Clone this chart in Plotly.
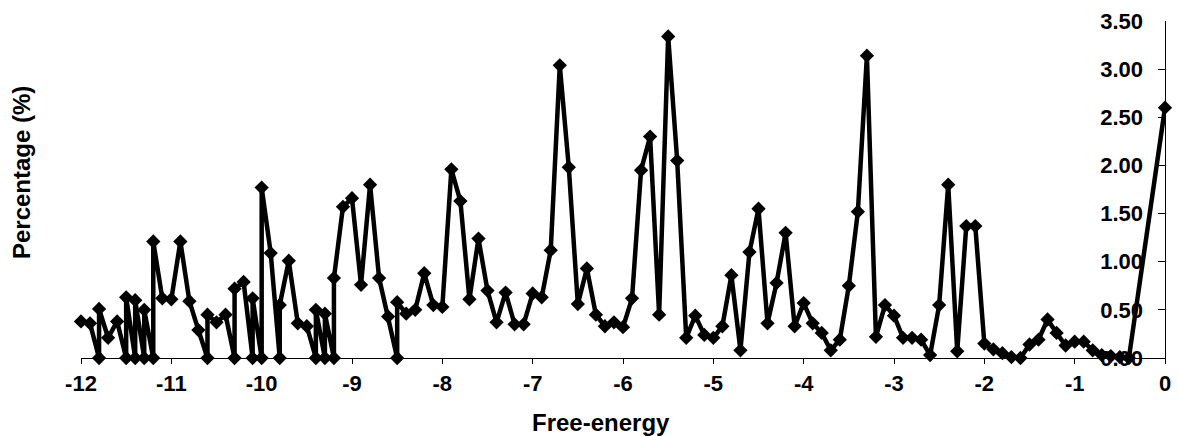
import plotly.graph_objects as go

# Free-energy bins (x) and percentage (y), in drawing order
free_energy = [
    -12.0, -11.9, -11.8, -11.8, -11.7, -11.6, -11.5, -11.5, -11.4, -11.4,
    -11.3, -11.3, -11.2, -11.2, -11.1, -11.0, -10.9, -10.8, -10.7, -10.6,
    -10.6, -10.5, -10.4, -10.3, -10.3, -10.2, -10.1, -10.1, -10.0, -10.0,
    -9.9, -9.8, -9.8, -9.7, -9.6, -9.5, -9.4, -9.4, -9.3, -9.3,
    -9.2, -9.2, -9.1, -9.0, -8.9, -8.8, -8.7, -8.6, -8.5, -8.5,
    -8.4, -8.3, -8.2, -8.1, -8.0, -7.9, -7.8, -7.7, -7.6, -7.5,
    -7.4, -7.3, -7.2, -7.1, -7.0, -6.9, -6.8, -6.7, -6.6, -6.5,
    -6.4, -6.3, -6.2, -6.1, -6.0, -5.9, -5.8, -5.7, -5.6, -5.5,
    -5.4, -5.3, -5.2, -5.1, -5.0, -4.9, -4.8, -4.7, -4.6, -4.5,
    -4.4, -4.3, -4.2, -4.1, -4.0, -3.9, -3.8, -3.7, -3.6, -3.5,
    -3.4, -3.3, -3.2, -3.1, -3.0, -2.9, -2.8, -2.7, -2.6, -2.5,
    -2.4, -2.3, -2.2, -2.1, -2.0, -1.9, -1.8, -1.7, -1.6, -1.5,
    -1.4, -1.3, -1.2, -1.1, -1.0, -0.9, -0.8, -0.7, -0.6, -0.5,
    -0.4, 0.0,
]
percentage = [
    0.38, 0.36, 0.00, 0.51, 0.21, 0.38, 0.00, 0.63, 0.00, 0.60,
    0.00, 0.50, 0.00, 1.21, 0.62, 0.61, 1.21, 0.59, 0.29, 0.00,
    0.45, 0.37, 0.45, 0.00, 0.72, 0.79, 0.00, 0.62, 0.00, 1.77,
    1.09, 0.00, 0.55, 1.01, 0.36, 0.33, 0.00, 0.50, 0.00, 0.46,
    0.00, 0.83, 1.57, 1.66, 0.76, 1.80, 0.83, 0.43, 0.00, 0.58,
    0.46, 0.50, 0.88, 0.55, 0.53, 1.96, 1.63, 0.61, 1.24, 0.70,
    0.37, 0.68, 0.35, 0.35, 0.67, 0.63, 1.12, 3.04, 1.98, 0.56,
    0.93, 0.45, 0.33, 0.37, 0.32, 0.62, 1.95, 2.30, 0.45, 3.34,
    2.05, 0.21, 0.44, 0.24, 0.21, 0.33, 0.86, 0.08, 1.10, 1.55,
    0.36, 0.78, 1.30, 0.33, 0.57, 0.36, 0.26, 0.08, 0.19, 0.75,
    1.52, 3.14, 0.22, 0.55, 0.44, 0.21, 0.21, 0.19, 0.03, 0.55,
    1.80, 0.07, 1.37, 1.37, 0.15, 0.09, 0.05, 0.01, 0.00, 0.14,
    0.19, 0.40, 0.26, 0.13, 0.17, 0.17, 0.08, 0.03, 0.02, 0.01,
    0.00, 2.60,
]

x_tickvals = [-12, -11, -10, -9, -8, -7, -6, -5, -4, -3, -2, -1, 0]
x_ticktext = ["-12", "-11", "-10", "-9", "-8", "-7", "-6", "-5", "-4", "-3", "-2", "-1", "0"]
y_tickvals = [0, 0.5, 1.0, 1.5, 2.0, 2.5, 3.0, 3.5]
y_ticktext = ["0.00", "0.50", "1.00", "1.50", "2.00", "2.50", "3.00", "3.50"]

FONT = "Arial, 'Liberation Sans', sans-serif"
TICKFONT = dict(family=FONT, size=22, color="black", weight="bold")

fig = go.Figure()
fig.add_trace(go.Scatter(
    x=free_energy, y=percentage, mode="lines+markers",
    line=dict(color="black", width=4.5),
    marker=dict(symbol="diamond", size=11, color="black"),
    showlegend=False, cliponaxis=False,
))
# empty helper trace so the label-only right axis is created
fig.add_trace(go.Scatter(x=[], y=[], yaxis="y2", showlegend=False, hoverinfo="skip"))

fig.update_layout(
    width=1178, height=436, autosize=False,
    margin=dict(l=81, r=7, t=21, b=78),
    paper_bgcolor="white", plot_bgcolor="white",
    font=dict(family=FONT, color="black"),
    xaxis=dict(
        range=[-12, 0], tickvals=x_tickvals, ticktext=x_ticktext,
        showline=True, linecolor="black", linewidth=1.2,
        ticks="outside", ticklen=5, tickcolor="black", tickwidth=1,
        showgrid=False, zeroline=False, ticklabeloverflow="allow",
        tickfont=TICKFONT,
    ),
    xaxis2=dict(
        range=[-12, 0], tickvals=x_tickvals, overlaying="x", anchor="y",
        side="bottom", showticklabels=False, showline=False,
        ticks="inside", ticklen=6, tickcolor="black", tickwidth=1,
        showgrid=False, zeroline=False,
    ),
    yaxis=dict(
        range=[0, 3.5], side="right", tickvals=y_tickvals,
        showticklabels=False, ticks="inside", ticklen=7,
        tickcolor="black", tickwidth=1,
        showline=True, linecolor="black", linewidth=1.2,
        showgrid=False, zeroline=False,
    ),
    yaxis2=dict(
        range=[0, 3.5], side="right", overlaying="y", anchor="x",
        tickvals=y_tickvals, ticktext=y_ticktext,
        ticklabelposition="inside", ticks="", ticklabelstandoff=19,
        ticklabeloverflow="allow",
        showline=False, showgrid=False, zeroline=False,
        tickfont=TICKFONT,
    ),
    annotations=[
        dict(text="Free-energy", xref="paper", yref="paper", x=0.48, y=-0.19,
             xanchor="center", yanchor="middle", showarrow=False,
             font=dict(family=FONT, size=24, color="black", weight="bold")),
        dict(text="Percentage (%)", xref="paper", yref="paper", x=-0.055, y=0.55,
             xanchor="center", yanchor="middle", textangle=-90, showarrow=False,
             font=dict(family=FONT, size=24, color="black", weight="bold")),
    ],
)

fig.write_html("out.html")
